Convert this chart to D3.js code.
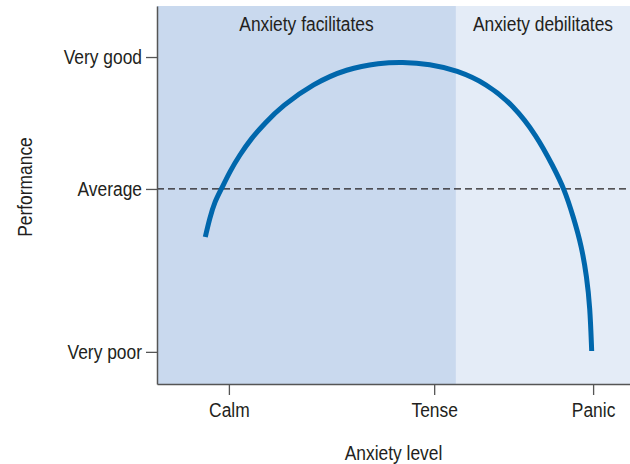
<!DOCTYPE html>
<html>
<head>
<meta charset="utf-8">
<script src="https://cdn.jsdelivr.net/npm/d3@7/dist/d3.min.js"></script>
<style>
  html, body { margin: 0; padding: 0; background: #fff; }
  svg { display: block; }
  text { font-family: "Liberation Sans", Arial, sans-serif; fill: #231f20; }
</style>
</head>
<body>
<svg id="chart" width="630" height="464"></svg>
<script>
// Anxiety level vs performance (inverted-U)
const anxiety = [10.21, 11.14, 12.20, 13.59, 15.37, 17.48, 19.94, 22.77, 26.43, 33.04,
                 40.11, 47.15, 51.73, 57.72, 63.36, 69.70, 75.33, 80.27, 83.78, 86.11,
                 88.01, 89.79, 90.84, 91.54, 91.90];
const performance = [38.89, 43.84, 48.23, 51.51, 56.16, 60.58, 65.00, 68.97, 73.54, 79.44,
                     83.41, 84.92, 85.19, 84.66, 82.99, 79.44, 73.73, 65.69, 57.49, 51.59,
                     44.26, 36.32, 28.39, 20.45, 8.73];

const xTickLabels = ["Calm", "Tense", "Panic"];
const xTickValues = [15.2, 58.6, 92.2];
const yTickLabels = ["Very poor", "Average", "Very good"];
const yTickValues = [8.5, 51.6, 86.5];

const zoneNames = ["Anxiety facilitates", "Anxiety debilitates"];
const zoneBounds = [[0, 63.2], [63.2, 100]];
const zoneColors = ["#c9d9ee", "#e4ecf7"];
const averageLevel = 51.6;

const margin = { top: 6, right: 0, bottom: 80, left: 157 };
const width = 630, height = 464;
const condense = 0.87;
const svg = d3.select("#chart");

const x = d3.scaleLinear().domain([0, 100]).range([margin.left, width - margin.right]);
const y = d3.scaleLinear().domain([0, 100]).range([height - margin.bottom, margin.top]);

// Background zones
svg.append("g").selectAll("rect")
  .data(zoneBounds)
  .join("rect")
  .attr("x", d => x(d[0]))
  .attr("width", d => x(d[1]) - x(d[0]))
  .attr("y", y(100))
  .attr("height", y(0) - y(100))
  .attr("fill", (d, i) => zoneColors[i]);

svg.append("g").selectAll("text")
  .data(zoneBounds)
  .join("text")
  .attr("x", d => (x(d[0]) + x(d[1])) / 2)
  .attr("y", 31)
  .attr("text-anchor", "middle")
  .style("font-size", "20px")
  .text((d, i) => zoneNames[i]);

// Average reference line
svg.append("line")
  .attr("x1", x(0)).attr("x2", x(100))
  .attr("y1", y(averageLevel)).attr("y2", y(averageLevel))
  .attr("stroke", "#231f20")
  .attr("stroke-width", 1.2)
  .attr("stroke-dasharray", "7,4");

// Axes
const yAxis = d3.axisLeft(y)
  .tickValues(yTickValues)
  .tickFormat((d, i) => yTickLabels[i])
  .tickSize(11)
  .tickPadding(4)
  .tickSizeOuter(0);
const xAxis = d3.axisBottom(x)
  .tickValues(xTickValues)
  .tickFormat((d, i) => xTickLabels[i])
  .tickSize(11)
  .tickPadding(8)
  .tickSizeOuter(0);

function styleAxis(g) {
  g.select(".domain").attr("stroke", "#555").attr("stroke-width", 1.5);
  g.selectAll(".tick line").attr("stroke", "#555").attr("stroke-width", 1.3);
  g.selectAll(".tick text")
    .style("font-size", "20px")
    .style("font-family", "'Liberation Sans', Arial, sans-serif")
    .attr("fill", "#231f20");
}

svg.append("g")
  .attr("transform", `translate(${margin.left},0)`)
  .call(yAxis)
  .call(styleAxis);

svg.append("g")
  .attr("transform", `translate(0,${height - margin.bottom})`)
  .call(xAxis)
  .call(styleAxis);

// Axis titles
svg.append("text")
  .attr("x", (x(0) + x(100)) / 2)
  .attr("y", 460)
  .attr("text-anchor", "middle")
  .style("font-size", "20px")
  .text("Anxiety level");

svg.append("text")
  .attr("transform", `translate(32,187) rotate(-90)`)
  .attr("text-anchor", "middle")
  .style("font-size", "20px")
  .text("Performance");

// Performance curve (smoothed B-spline through the sampled points)
const points = anxiety.map((a, i) => [a, performance[i]]);
const line = d3.line()
  .x(d => x(d[0]))
  .y(d => y(d[1]))
  .curve(d3.curveBasis);

svg.append("path")
  .datum(points)
  .attr("d", line)
  .attr("fill", "none")
  .attr("stroke", "#0067ac")
  .attr("stroke-width", 5);

// Condensed lettering: squeeze every label horizontally about its anchor
svg.selectAll("text").each(function () {
  const t = d3.select(this);
  const ax = +(t.attr("x") || 0);
  const base = t.attr("transform") || "";
  t.attr("transform", `${base} translate(${ax},0) scale(${condense},1) translate(${-ax},0)`.trim());
});
</script>
</body>
</html>
